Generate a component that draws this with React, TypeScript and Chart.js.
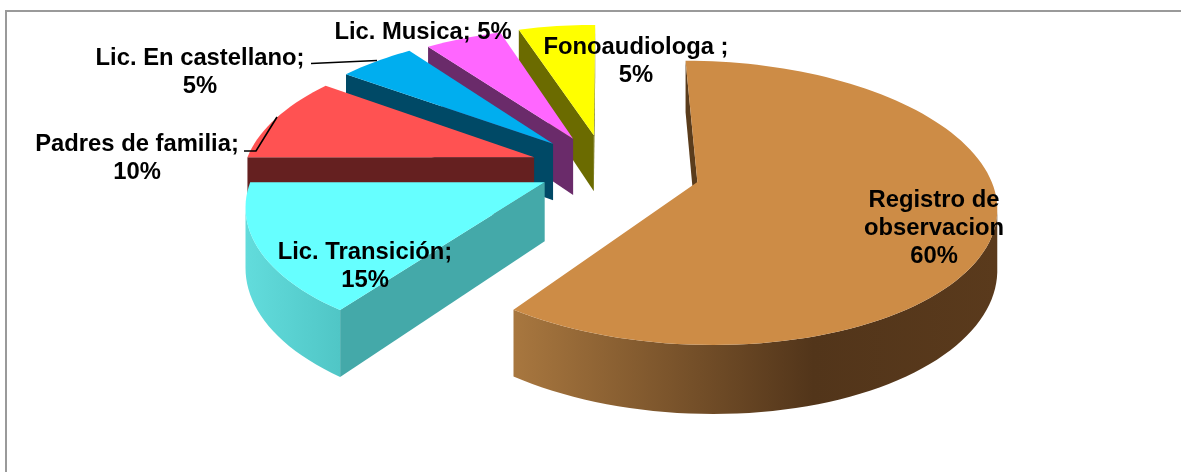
import React, { useEffect, useRef } from "react";
import { Chart, registerables } from "chart.js";

Chart.register(...registerables);

const categories = ["Registro de observacion", "Lic. Transición", "Padres de familia", "Lic. En castellano", "Lic. Musica", "Fonoaudiologa"];
const values = [60, 15, 10, 5, 5, 5];
const explosions = [66, 46, 52, 52, 50, 51];
const topColors = ["#cd8c46", "#66ffff", "#ff5252", "#00aeef", "#ff66ff", "#ffff00"];
const edgeColors = ["#5a3c1c", "#44a9a9", "#652020", "#004966", "#6a2b6a", "#6b6b00"];
const rimStops: [number, string][][] = [
  [[0, "#a8773f"], [0.62, "#52351a"], [1, "#5a3a1c"]],
  [[0, "#62dcdc"], [1, "#50c6c6"]],
  [[0, "#652020"], [1, "#652020"]],
  [[0, "#004966"], [1, "#004966"]],
  [[0, "#6a2b6a"], [1, "#6a2b6a"]],
  [[0, "#6b6b00"], [1, "#6b6b00"]],
];

const labelLines = [
  ["Registro de", "observacion", "60%"],
  ["Lic. Transición;", "15%"],
  ["Padres de familia;", "10%"],
  ["Lic. En castellano;", "5%"],
  ["Lic. Musica; 5%"],
  ["Fonoaudiologa ;", "5%"],
];
const labelAnchors = [
  [934, 200],
  [365, 252],
  [137, 144],
  [200, 58],
  [423, 32],
  [636, 47],
];
const leaderLines = [
  [[311, 63.5], [377, 60.5]],
  [[244, 151], [256, 151], [277, 117]],
];

const SX = 290 / 200;
const SY = 135 / 200;
const PERSP = 0.1447 / 200;
const DEPTH = 58;

type Pt = { x: number; y: number };

function project(cx: number, cy: number, X: number, Y: number, z: number): Pt {
  const f = 1 / (1 - PERSP * Y);
  return { x: cx + SX * X * f, y: cy + SY * Y * f + z * f };
}

function polyArea(p: Pt[]) {
  let a = 0;
  for (let i = 0; i < p.length; i++) {
    const q = p[(i + 1) % p.length];
    a += p[i].x * q.y - q.x * p[i].y;
  }
  return a;
}

function fillPoly(ctx: CanvasRenderingContext2D, p: Pt[], style: any) {
  ctx.beginPath();
  p.forEach((q, i) => (i ? ctx.lineTo(q.x, q.y) : ctx.moveTo(q.x, q.y)));
  ctx.closePath();
  ctx.fillStyle = style;
  ctx.fill();
}

const pie3d = {
  id: "pie3d",
  beforeDatasetDraw(chart: any, args: any) {
    const ctx: CanvasRenderingContext2D = chart.ctx;
    const arcs = args.meta.data;
    ctx.save();
    for (let i = arcs.length - 1; i >= 0; i--) {
      const arc = arcs[i];
      const { x: cx, y: cy, startAngle, endAngle, outerRadius: R } = arc.getProps(["x", "y", "startAngle", "endAngle", "outerRadius"]);
      const off = arc.options.offset;
      const mid = (startAngle + endAngle) / 2;
      const ax = Math.cos(mid) * off;
      const ay = Math.sin(mid) * off;
      const steps = Math.max(12, Math.round(((endAngle - startAngle) / Math.PI) * 90));
      const rim: [number, number][] = [];
      for (let s = 0; s <= steps; s++) {
        const t = startAngle + ((endAngle - startAngle) * s) / steps;
        rim.push([ax + Math.cos(t) * R, ay + Math.sin(t) * R]);
      }
      const P = (q: [number, number], z: number) => project(cx, cy, q[0], q[1], z);
      const apex: [number, number] = [ax, ay];

      // straight walls
      const w1 = [P(apex, 0), P(rim[0], 0), P(rim[0], DEPTH), P(apex, DEPTH)];
      const w2 = [P(rim[steps], 0), P(apex, 0), P(apex, DEPTH), P(rim[steps], DEPTH)];
      if (polyArea(w1) < 0) fillPoly(ctx, w1, edgeColors[i]);
      if (polyArea(w2) < 0) fillPoly(ctx, w2, edgeColors[i]);

      // curved wall: one polygon per run of visible steps
      const xs = rim.map((q) => P(q, 0).x);
      const grad = ctx.createLinearGradient(Math.min(...xs), 0, Math.max(...xs), 0);
      rimStops[i].forEach(([o, c]) => grad.addColorStop(o, c));
      let run: number[] = [];
      const flush = () => {
        if (run.length > 1) {
          const top = run.map((k) => P(rim[k], 0));
          const bottom = run.map((k) => P(rim[k], DEPTH)).reverse();
          fillPoly(ctx, [...top, ...bottom], grad);
        }
        run = [];
      };
      for (let s = 0; s < steps; s++) {
        const q = [P(rim[s], 0), P(rim[s + 1], 0), P(rim[s + 1], DEPTH), P(rim[s], DEPTH)];
        if (polyArea(q) < 0) {
          if (!run.length) run.push(s);
          run.push(s + 1);
        } else flush();
      }
      flush();

      // top face
      fillPoly(ctx, [P(apex, 0), ...rim.map((q) => P(q, 0))], arc.options.backgroundColor);
    }
    ctx.restore();
    return false;
  },
  afterDraw(chart: any) {
    const ctx: CanvasRenderingContext2D = chart.ctx;
    ctx.save();
    ctx.strokeStyle = "#000000";
    ctx.lineWidth = 1.6;
    leaderLines.forEach((line) => {
      ctx.beginPath();
      line.forEach(([x, y], i) => (i ? ctx.lineTo(x, y) : ctx.moveTo(x, y)));
      ctx.stroke();
    });
    ctx.fillStyle = "#000000";
    ctx.font = 'bold 23.8px "Liberation Sans", Arial, sans-serif';
    ctx.textAlign = "center";
    ctx.textBaseline = "middle";
    labelLines.forEach((lines, i) => {
      lines.forEach((t, k) => ctx.fillText(t, labelAnchors[i][0], labelAnchors[i][1] + k * 28));
    });
    ctx.restore();
  },
};

export default function App() {
  const ref = useRef<HTMLCanvasElement>(null);
  useEffect(() => {
    const chart = new Chart(ref.current!, {
      type: "pie",
      data: {
        labels: categories,
        datasets: [
          {
            data: values,
            backgroundColor: topColors,
            offset: explosions,
            borderWidth: 0,
            radius: 200,
          } as any,
        ],
      },
      options: {
        animation: false,
        responsive: false,
        layout: { padding: { left: 29, right: 0, top: 0, bottom: 136 } },
        plugins: { legend: { display: false }, tooltip: { enabled: false } },
      },
      plugins: [pie3d as any],
    });
    return () => chart.destroy();
  }, []);
  return (
    <div style={{ position: "fixed", left: 0, top: 0, width: 1181, height: 472, background: "#ffffff", overflow: "hidden" }}>
      <div style={{ position: "absolute", left: 5, top: 10, width: 1176, height: 462, boxSizing: "border-box", borderTop: "2px solid #9a9a9a", borderLeft: "2px solid #9a9a9a" }} />
      <canvas ref={ref} width={1181} height={472} style={{ position: "absolute", left: 0, top: 0, display: "block" }} />
    </div>
  );
}
